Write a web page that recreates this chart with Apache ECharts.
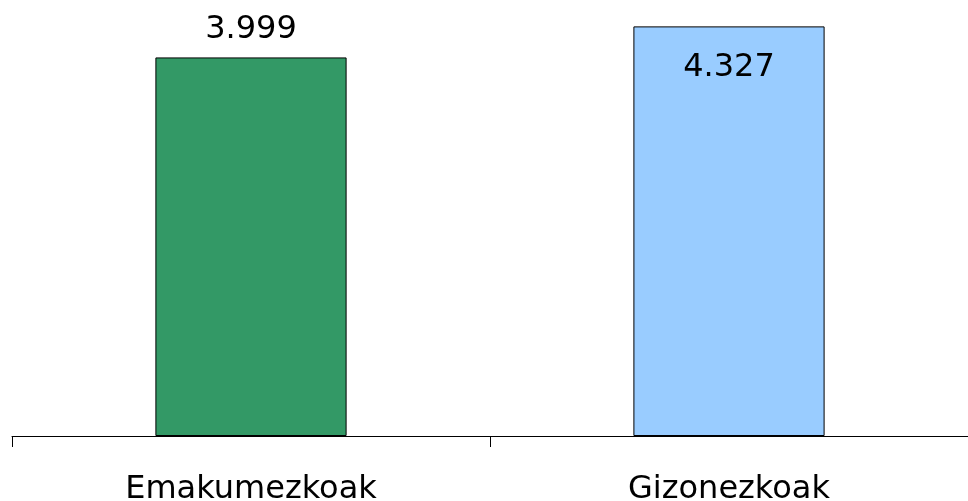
<!DOCTYPE html>
<html>
<head>
<meta charset="utf-8">
<script src="https://cdn.jsdelivr.net/npm/echarts@6/dist/echarts.min.js"></script>
<style>
html,body{margin:0;padding:0;background:#fff;}
#c{width:968px;height:501px;}
</style>
</head>
<body>
<div id="c"></div>
<script>
const categories = ['Emakumezkoak', 'Gizonezkoak'];
const values = [3999, 4327];
const barColors = ['#339966', '#99CCFF'];
const labelPositions = ['top', 'insideTop'];

function fmt(v) {
  return String(v).replace(/\B(?=(\d{3})+(?!\d))/g, '.');
}

const chart = echarts.init(document.getElementById('c'), null, {renderer: 'canvas'});
const font = 'DejaVu Sans, sans-serif';
chart.setOption({
  animation: false,
  grid: {left: 12, right: 0, top: 10, bottom: 65, containLabel: false, outerBoundsMode: 'none'},
  xAxis: {
    type: 'category',
    data: categories,
    axisLine: {lineStyle: {color: '#000', width: 1}},
    axisTick: {show: true, length: 11, lineStyle: {color: '#000', width: 1}},
    axisLabel: {color: '#000', fontSize: 32, fontFamily: font, margin: 38, hideOverlap: false}
  },
  yAxis: {
    type: 'value', min: 0, max: 4500,
    show: false,
    splitLine: {show: false}
  },
  series: [{
    type: 'bar',
    barWidth: '40%',
    data: values.map((v, i) => ({
      value: v,
      itemStyle: {color: barColors[i], borderColor: '#000', borderWidth: 1},
      label: {
        show: true,
        position: labelPositions[i],
        distance: labelPositions[i] === 'top' ? 12 : 25,
        formatter: p => fmt(p.value),
        color: '#000', fontSize: 32, fontFamily: font
      }
    }))
  }]
});
</script>
</body>
</html>
